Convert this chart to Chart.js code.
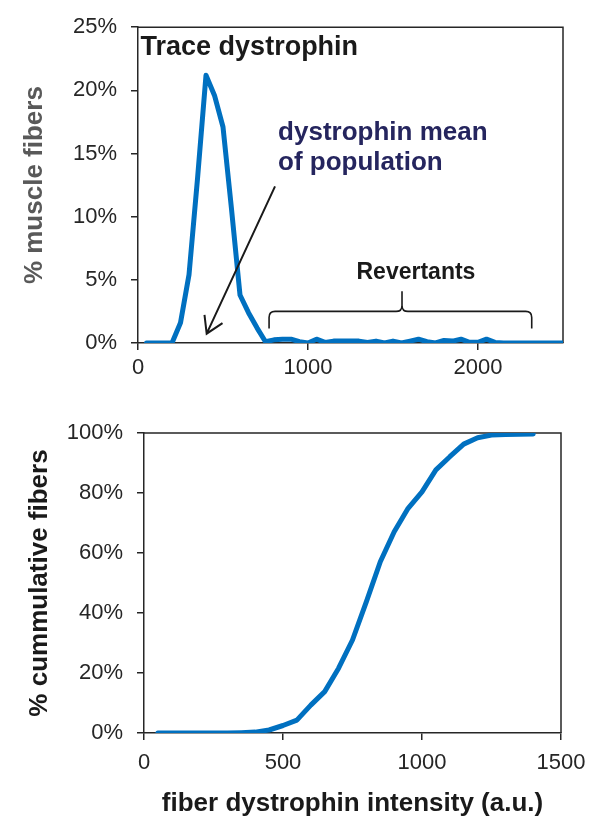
<!DOCTYPE html>
<html>
<head>
<meta charset="utf-8">
<script src="https://cdn.jsdelivr.net/npm/chart.js@4.4.1/dist/chart.umd.min.js"></script>
<style>
  html, body { margin: 0; padding: 0; background: #fff; }
  body { width: 591px; height: 816px; position: relative; overflow: hidden; }
  #wrap-hist { position: absolute; left: 0; top: 0; }
  #wrap-cum  { position: absolute; left: 0; top: 392px; }
</style>
</head>
<body>
<div id="wrap-hist"><canvas id="chart-hist" width="591" height="395"></canvas></div>
<div id="wrap-cum"><canvas id="chart-cum" width="591" height="427"></canvas></div>
<script>
/* histogram + cumulative distribution of fiber dystrophin intensity */

// ── data ─────────────────────────────────────────────
const binsHist = [50, 100, 150, 200, 250, 300, 350, 400, 450, 500,
  550, 600, 650, 700, 750, 800, 850, 900, 950, 1000,
  1050, 1100, 1150, 1200, 1250, 1300, 1350, 1400, 1450, 1500,
  1550, 1600, 1650, 1700, 1750, 1800, 1850, 1900, 1950, 2000,
  2050, 2100, 2150, 2200, 2250, 2300, 2350, 2400, 2450, 2500];
const pctHist = [0, 0, 0, 0, 1.6, 5.4, 13.0, 21.2, 19.6, 17.1,
  10.6, 3.8, 2.4, 1.2, 0.1, 0.25, 0.3, 0.3, 0.1, 0.0,
  0.3, 0.05, 0.15, 0.15, 0.15, 0.15, 0.05, 0.15, 0.0, 0.15,
  0.0, 0.15, 0.3, 0.1, 0.0, 0.2, 0.15, 0.3, 0.05, 0.05,
  0.3, 0.05, 0, 0, 0, 0, 0, 0, 0, 0];

const binsCum = [50, 100, 150, 200, 250, 300, 350, 400, 450, 500,
  550, 600, 650, 700, 750, 800, 850, 900, 950, 1000,
  1050, 1100, 1150, 1200, 1250, 1300, 1350, 1400];
const pctCum = [0, 0, 0, 0, 0, 0, 0.1, 0.3, 1.0, 2.5,
  4.3, 9.3, 13.8, 21.6, 31.0, 43.8, 57.1, 67.1, 74.9, 80.4,
  87.7, 92.1, 96.3, 98.4, 99.3, 99.5, 99.6, 99.7];

const histTicksX = [0, 1000, 2000];
const histTicksY = [0, 5, 10, 15, 20, 25];
const cumTicksX  = [0, 500, 1000, 1500];
const cumTicksY  = [0, 20, 40, 60, 80, 100];

// ── style ────────────────────────────────────────────
const INK  = '#262626';
const BLUE = '#0070c0';
const NAVY = '#25255e';
const FONT = "'Liberation Sans', Arial, sans-serif";

Chart.defaults.font.family = FONT;
Chart.defaults.color = INK;

const toXY = (xs, ys) => xs.map((v, i) => ({ x: v, y: ys[i] }));

// top + right frame of the plot area
const boxPlugin = {
  id: 'box',
  beforeDatasetsDraw(chart) {
    const { ctx, chartArea: a } = chart;
    ctx.save();
    ctx.strokeStyle = INK;
    ctx.lineWidth = 1.5;
    ctx.beginPath();
    ctx.moveTo(a.left, a.top);
    ctx.lineTo(a.right, a.top);
    ctx.lineTo(a.right, a.bottom);
    ctx.stroke();
    ctx.restore();
  },
};

// annotations of the histogram (placed in data units)
const notasPlugin = {
  id: 'notas',
  afterDatasetsDraw(chart) {
    const { ctx, scales: { x, y } } = chart;
    const px = v => x.getPixelForValue(v);
    const py = v => y.getPixelForValue(v);
    ctx.save();
    ctx.textBaseline = 'middle';

    ctx.fillStyle = '#1a1a1a';
    ctx.textAlign = 'left';
    ctx.font = `bold 27px ${FONT}`;
    ctx.fillText('Trace dystrophin', px(15), py(23.4));

    ctx.fillStyle = NAVY;
    ctx.font = `bold 26px ${FONT}`;
    ctx.fillText('dystrophin mean', px(824), py(16.6));
    ctx.fillText('of population', px(824), py(14.3));

    ctx.fillStyle = '#1a1a1a';
    ctx.textAlign = 'center';
    ctx.font = `bold 23px ${FONT}`;
    ctx.fillText('Revertants', px(1635), py(5.6));

    // brace over the revertants
    const xL = px(771), xR = px(2316), xM = px(1553);
    const yEnd = py(1.15), yH = py(2.5), yTip = py(4.1);
    const r = 6;
    ctx.strokeStyle = '#1a1a1a';
    ctx.lineWidth = 1.6;
    ctx.beginPath();
    ctx.moveTo(xL, yEnd);
    ctx.lineTo(xL, yH + r);
    ctx.quadraticCurveTo(xL, yH, xL + r, yH);
    ctx.lineTo(xM - r, yH);
    ctx.quadraticCurveTo(xM, yH, xM, yH - r);
    ctx.lineTo(xM, yTip);
    ctx.moveTo(xM, yH - r);
    ctx.quadraticCurveTo(xM, yH, xM + r, yH);
    ctx.lineTo(xR - r, yH);
    ctx.quadraticCurveTo(xR, yH, xR, yH + r);
    ctx.lineTo(xR, yEnd);
    ctx.stroke();

    // arrow to the population mean
    const x0 = px(806), y0 = py(12.4), x1 = px(404), y1 = py(0.74);
    const ang = Math.atan2(y1 - y0, x1 - x0);
    const head = 19, spread = 0.55;
    ctx.lineWidth = 2;
    ctx.beginPath();
    ctx.moveTo(x0, y0);
    ctx.lineTo(x1, y1);
    ctx.moveTo(x1 - head * Math.cos(ang - spread), y1 - head * Math.sin(ang - spread));
    ctx.lineTo(x1, y1);
    ctx.lineTo(x1 - head * Math.cos(ang + spread), y1 - head * Math.sin(ang + spread));
    ctx.stroke();
    ctx.restore();
  },
};

function ejeX(min, max, ticks, height, pad, title) {
  return {
    type: 'linear', min, max,
    afterFit: s => { s.height = height; s.paddingLeft = 0; s.paddingRight = 0; },
    afterBuildTicks: s => { s.ticks = ticks.map(v => ({ value: v })); },
    ticks: { padding: pad, maxRotation: 0, color: INK, font: { size: 22 }, callback: v => String(v) },
    grid: { drawOnChartArea: false, drawTicks: true, tickLength: 7, color: INK, lineWidth: 1.5 },
    border: { display: true, color: INK, width: 1.5 },
    title: title
      ? { display: true, text: title, color: '#1a1a1a', font: { size: 26, weight: 'bold' }, padding: { top: 0, bottom: 0 } }
      : { display: false },
  };
}

function ejeY(min, max, ticks, width, title, titleColor, titlePad) {
  return {
    min, max,
    afterFit: s => { s.width = width; },
    afterBuildTicks: s => { s.ticks = ticks.map(v => ({ value: v })); },
    ticks: { padding: 14, color: INK, font: { size: 22 }, callback: v => v + '%' },
    grid: { drawOnChartArea: false, drawTicks: true, tickLength: 7, color: INK, lineWidth: 1.5 },
    border: { display: true, color: INK, width: 1.5 },
    title: { display: true, text: title, color: titleColor, font: { size: 26, weight: 'bold' }, padding: { top: titlePad, bottom: 0 } },
  };
}

function lineaDataset(xs, ys) {
  return {
    data: toXY(xs, ys),
    borderColor: BLUE,
    borderWidth: 5,
    pointRadius: 0,
    tension: 0,
    borderJoinStyle: 'round',
    borderCapStyle: 'round',
    fill: false,
  };
}

// ── histogram ────────────────────────────────────────
new Chart(document.getElementById('chart-hist').getContext('2d'), {
  type: 'line',
  data: { datasets: [lineaDataset(binsHist, pctHist)] },
  options: {
    responsive: false,
    animation: false,
    layout: { padding: { top: 17, right: 28, left: 0, bottom: 0 } },
    plugins: { legend: { display: false }, tooltip: { enabled: false } },
    scales: {
      x: ejeX(0, 2500, histTicksX, 52, 5),
      y: ejeY(0, 25, histTicksY, 138, '% muscle fibers', '#595959', 19),
    },
  },
  plugins: [boxPlugin, notasPlugin],
});

// ── cumulative ───────────────────────────────────────
new Chart(document.getElementById('chart-cum').getContext('2d'), {
  type: 'line',
  data: { datasets: [lineaDataset(binsCum, pctCum)] },
  options: {
    responsive: false,
    animation: false,
    layout: { padding: { top: 41, right: 30, left: 0, bottom: 0 } },
    plugins: { legend: { display: false }, tooltip: { enabled: false } },
    scales: {
      x: ejeX(0, 1500, cumTicksX, 86, 10, 'fiber dystrophin intensity (a.u.)'),
      y: ejeY(0, 100, cumTicksY, 144, '% cummulative fibers', '#1a1a1a', 24),
    },
  },
  plugins: [boxPlugin],
});
</script>
</body>
</html>
